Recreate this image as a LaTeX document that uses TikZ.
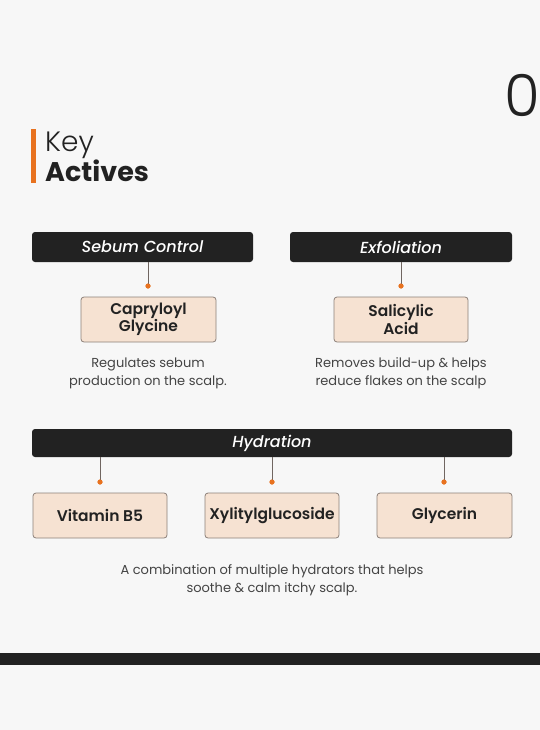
\documentclass[tikz,border=0pt]{standalone}
\usepackage{fontspec}
\setmainfont{Poppins}
\newfontfamily\lightfont{Poppins Light}
\newfontfamily\semifont{Poppins SemiBold}
\newfontfamily\hdfont{Poppins Medium Italic}
\definecolor{bg}{HTML}{F7F7F7}
\definecolor{ink}{HTML}{222222}
\definecolor{peach}{HTML}{F6E2D2}
\definecolor{edge}{HTML}{8C8079}
\definecolor{accent}{HTML}{E8721F}
\definecolor{body}{HTML}{444444}
\tikzset{
  header/.style={fill=ink, rounded corners=3pt, text=white, inner sep=0pt,
    font=\fontsize{16}{18}\selectfont\hdfont},
  ingredient/.style={fill=peach, draw=edge, line width=0.8pt, rounded corners=3pt,
    text=ink, inner sep=0pt, minimum height=45pt, align=center,
    font=\fontsize{15.5}{16}\selectfont\semifont},
  desc/.style={text=body, align=center, inner sep=0pt,
    font=\fontsize{13}{18}\selectfont},
  dotnode/.style={circle, fill=accent, inner sep=0pt, minimum size=5pt},
  link/.style={draw=edge!80!black, line width=0.8pt}
}
\begin{document}
\begin{tikzpicture}[x=1pt,y=-1pt]
\fill[bg] (0,0) rectangle (540,730);
\useasboundingbox (0,0) rectangle (540,730);
\clip (0,0) rectangle (540,730);
% bottom bar
\fill[ink] (0,653) rectangle (540,665);
% page number
\node[anchor=west, inner sep=0pt, text=ink, font=\fontsize{58}{58}\selectfont\lightfont] (num) at (504,95) {0};
% title
\fill[accent] (31,129) rectangle (36,183);
\node[anchor=base west, inner sep=0pt, text=ink, font=\fontsize{28}{30}\selectfont\lightfont] (key) at (45,152) {Key};
\node[anchor=base west, inner sep=0pt, text=ink, font=\fontsize{27}{30}\selectfont\bfseries] (act) at (45,182) {Actives};
% headers
\node[header, minimum width=221pt, minimum height=30pt] (sebum) at (142.5,247) {Sebum Control};
\node[header, minimum width=222pt, minimum height=30pt] (exfo) at (401,247) {Exfoliation};
\node[header, minimum width=480pt, minimum height=28pt] (hydr) at (272,443) {Hydration};
% ingredient boxes
\node[ingredient, minimum width=135pt] (capr) at (148.5,319.5) {Capryloyl\\Glycine};
\node[ingredient, minimum width=134pt] (sali) at (401,319.5) {Salicylic\\Acid};
\node[ingredient, minimum width=134pt] (vitb) at (100,515.5) {Vitamin B5};
\node[ingredient, minimum width=134pt] (xyli) at (272,515.5) {Xylitylglucoside};
\node[ingredient, minimum width=135pt] (glyc) at (444.5,515.5) {Glycerin};
% dots
\node[dotnode] (d1) at (148,286) {};
\node[dotnode] (d2) at (401,286) {};
\node[dotnode] (d3) at (100,482) {};
\node[dotnode] (d4) at (272,482) {};
\node[dotnode] (d5) at (444,482) {};
% connectors
\draw[link] (sebum.south -| d1) -- (d1.center);
\draw[link] (exfo.south -| d2) -- (d2.center);
\draw[link] (hydr.south -| d3) -- (d3.center);
\draw[link] (hydr.south -| d4) -- (d4.center);
\draw[link] (hydr.south -| d5) -- (d5.center);
\node[dotnode] at (d1) {};
\node[dotnode] at (d2) {};
\node[dotnode] at (d3) {};
\node[dotnode] at (d4) {};
\node[dotnode] at (d5) {};
% descriptions
\node[desc] (t1) at (148,373.5) {Regulates sebum\\production on the scalp.};
\node[desc] (t2) at (401,373.5) {Removes build-up \& helps\\reduce flakes on the scalp};
\node[desc] (t3) at (272,580.5) {A combination of multiple hydrators that helps\\soothe \& calm itchy scalp.};
\end{tikzpicture}
\end{document}
